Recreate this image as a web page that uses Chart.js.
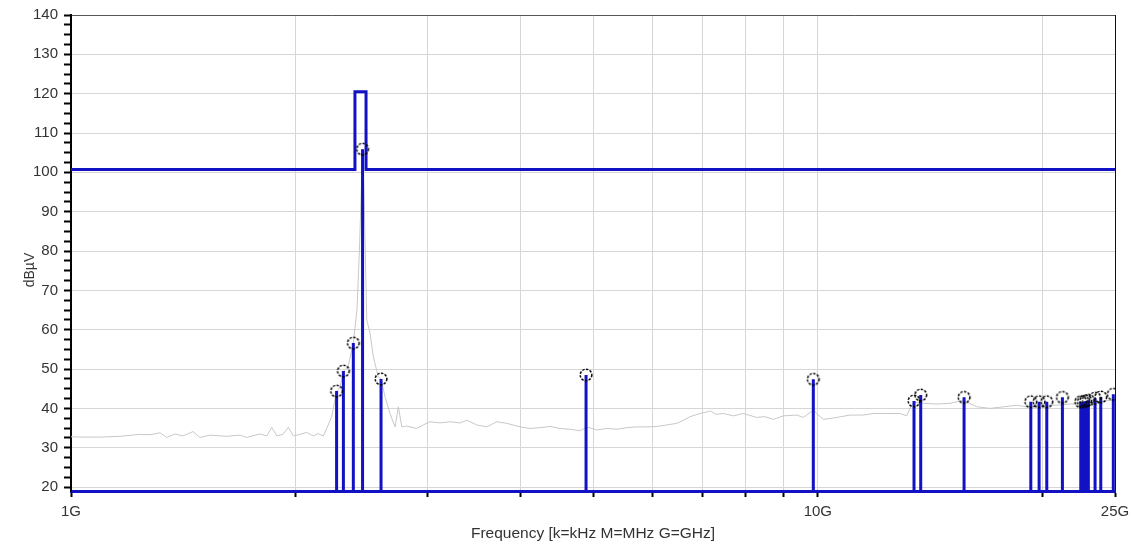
<!DOCTYPE html>
<html>
<head>
<meta charset="utf-8">
<script src="https://cdn.jsdelivr.net/npm/chart.js@4.4.1/dist/chart.umd.min.js"></script>
<style>
  html, body { margin: 0; padding: 0; background: #ffffff; }
  canvas { display: block; }
</style>
</head>
<body>
<canvas id="spectrum" width="1133" height="548"></canvas>
<script>
// Measured trace (frequency in GHz, level in dBµV)
const traceFreq = [
  1.000, 1.028, 1.094, 1.163, 1.237, 1.276, 1.316, 1.343, 1.378, 1.412,
  1.457, 1.488, 1.535, 1.616, 1.684, 1.719, 1.764, 1.791, 1.829, 1.857,
  1.886, 1.922, 1.954, 1.985, 2.026, 2.068, 2.111, 2.142, 2.177, 2.200,
  2.234, 2.268, 2.293, 2.316, 2.349, 2.388, 2.415, 2.433, 2.457, 2.468,
  2.489, 2.514, 2.540, 2.579, 2.601, 2.633, 2.674, 2.716, 2.744, 2.773,
  2.815, 2.903, 2.963, 3.025, 3.120, 3.218, 3.319, 3.388, 3.493, 3.603,
  3.716, 3.833, 3.993, 4.118, 4.247, 4.380, 4.517, 4.659, 4.805, 4.905,
  5.059, 5.218, 5.381, 5.550, 5.724, 5.903, 6.088, 6.279, 6.476, 6.609,
  6.745, 6.956, 7.137, 7.174, 7.308, 7.474, 7.708, 7.947, 8.283, 8.497,
  8.718, 8.993, 9.371, 9.564, 9.862, 10.171, 10.600, 11.045, 11.505, 11.866,
  12.367, 12.885, 13.154, 13.288, 13.453, 13.845, 14.429, 15.033, 15.664, 16.324,
  17.009, 17.721, 18.469, 19.048, 20.046, 20.891, 21.766, 22.677, 23.634, 24.619,
  25.000
];
const traceLevel = [
  32.8, 32.7, 32.7, 32.9, 33.4, 33.3, 33.8, 32.6, 33.5, 33.0,
  34.1, 32.6, 33.2, 32.9, 33.2, 32.6, 33.2, 33.5, 33.0, 35.2,
  33.0, 33.4, 35.2, 33.0, 33.4, 33.9, 33.0, 33.6, 33.0, 34.9,
  37.9, 44.3, 45.5, 49.5, 50.5, 56.6, 65.0, 80.0, 105.9, 95.0,
  62.5, 59.2, 53.1, 48.0, 47.5, 43.0, 38.7, 35.3, 40.4, 35.3,
  35.5, 34.9, 35.8, 36.6, 36.3, 36.6, 36.3, 37.0, 35.8, 35.3,
  36.6, 36.2, 35.3, 34.9, 35.1, 35.4, 34.9, 34.7, 34.3, 35.3,
  34.5, 34.9, 34.7, 35.1, 35.3, 35.3, 35.4, 35.8, 36.2, 37.0,
  37.9, 38.7, 39.2, 39.4, 38.5, 38.7, 38.1, 38.7, 37.7, 37.9,
  37.2, 38.1, 38.3, 37.7, 39.5, 37.2, 37.7, 38.3, 38.3, 38.7,
  38.7, 38.7, 38.1, 40.0, 41.5, 41.3, 41.1, 41.3, 42.0, 40.4,
  40.0, 40.4, 40.8, 40.4, 40.8, 40.8, 41.1, 41.3, 41.7, 42.0,
  42.2
];

// Detected peaks
const peakFreq = [
  2.268, 2.316, 2.388, 2.457, 2.601, 4.894, 9.862, 13.453, 13.734, 15.698,
  19.284, 19.785, 20.258, 21.258, 22.496, 22.677, 22.845, 23.029, 23.510, 23.927,
  24.870
];
const peakLevel = [
  44.4, 49.5, 56.6, 105.9, 47.5, 48.5, 47.4, 41.9, 43.4, 42.8,
  41.7, 41.7, 41.7, 42.8, 41.7, 41.7, 41.9, 42.1, 42.6, 42.9,
  43.6
];

// Limit line with the raised 2.4 GHz band
const limitFreq  = [1, 2.4, 2.4, 2.4835, 2.4835, 25];
const limitLevel = [100.7, 100.7, 120.5, 120.5, 100.7, 100.7];

// Axis ticks
const xTickValues = [1, 2, 3, 4, 5, 6, 7, 8, 9, 10, 20, 25];
const xTickLabels = ['1G', '', '', '', '', '', '', '', '', '10G', '', '25G'];
const yTickLabels = [20, 30, 40, 50, 60, 70, 80, 90, 100, 110, 120, 130, 140];
const yMinorStep = 2.5;
const levelFloor = 19;
const levelTop = 140;
const yTitle = 'dBµV';
const xTitle = 'Frequency [k=kHz M=MHz G=GHz]';

const BLUE = '#1212c4';
const GRID = '#d6d6d6';
const FONT = '"Liberation Sans", Arial, sans-serif';

// Stems: floor -> peak, separated by gaps
const stemPoints = [];
peakFreq.forEach((f, i) => {
  stemPoints.push({ x: f, y: levelFloor });
  stemPoints.push({ x: f, y: peakLevel[i] });
  stemPoints.push({ x: f, y: null });
});

// Dashed ring marker
function makeRing() {
  const c = document.createElement('canvas');
  c.width = 16; c.height = 16;
  const g = c.getContext('2d');
  g.strokeStyle = '#000';
  g.lineWidth = 1.5;
  g.setLineDash([2.4, 1.4]);
  g.beginPath();
  g.arc(8, 8, 5.8, 0, Math.PI * 2);
  g.stroke();
  return c;
}
const ring = makeRing();

const yTicks = [];
for (let v = yTickLabels[0]; v <= yTickLabels[yTickLabels.length - 1] + 1e-9; v += yMinorStep) {
  yTicks.push(v);
}

// Vertical axis caption, placed a little below the plot's middle
const yCaption = {
  id: 'yCaption',
  afterDraw(chart) {
    const g = chart.ctx;
    g.save();
    g.translate(30, 270);
    g.rotate(-Math.PI / 2);
    g.font = '14px ' + FONT;
    g.fillStyle = '#333';
    g.textAlign = 'center';
    g.textBaseline = 'middle';
    g.fillText(yTitle, 0, 0);
    g.restore();
  }
};

new Chart(document.getElementById('spectrum'), {
  type: 'line',
  data: {
    datasets: [
      {
        label: 'Markers',
        data: peakFreq.map((f, i) => ({ x: f, y: peakLevel[i] })),
        showLine: false,
        pointStyle: ring,
        pointRadius: 7,
        order: 1
      },
      {
        label: 'Peaks',
        data: stemPoints,
        borderColor: BLUE,
        borderWidth: 3,
        pointRadius: 0,
        spanGaps: false,
        order: 2
      },
      {
        label: 'Limit',
        data: limitFreq.map((f, i) => ({ x: f, y: limitLevel[i] })),
        borderColor: BLUE,
        borderWidth: 3,
        pointRadius: 0,
        order: 3
      },
      {
        label: 'Trace',
        data: traceFreq.map((f, i) => ({ x: f, y: traceLevel[i] })),
        borderColor: '#c8c8c8',
        borderWidth: 1,
        pointRadius: 0,
        order: 4
      }
    ]
  },
  plugins: [yCaption],
  options: {
    responsive: false,
    animation: false,
    layout: { padding: { top: 15, right: 18, left: 0, bottom: 0 } },
    plugins: { legend: { display: false }, tooltip: { enabled: false } },
    scales: {
      x: {
        type: 'logarithmic',
        min: 1,
        max: 25,
        afterBuildTicks: (s) => { s.ticks = xTickValues.map(v => ({ value: v })); },
        afterFit: (s) => { s.height = 57; s.paddingLeft = 0; s.paddingRight = 0; },
        grid: {
          color: (ctx) => {
            const v = ctx.tick && ctx.tick.value;
            if (v === 25) return '#111';
            if (v === 1) return 'rgba(0,0,0,0)';
            return GRID;
          },
          lineWidth: 1,
          tickColor: '#000',
          tickWidth: 2,
          tickLength: 6
        },
        border: { display: true, color: BLUE, width: 3 },
        ticks: {
          autoSkip: false,
          maxRotation: 0,
          padding: 6,
          color: '#333',
          font: { family: FONT, size: 15 },
          callback: (v) => {
            const i = xTickValues.indexOf(v);
            return i >= 0 ? xTickLabels[i] : '';
          }
        },
        title: {
          display: true,
          text: xTitle,
          color: '#333',
          font: { family: FONT, size: 15.5 },
          padding: { top: 0, bottom: 5 }
        }
      },
      y: {
        type: 'linear',
        min: levelFloor,
        max: levelTop,
        afterBuildTicks: (s) => { s.ticks = yTicks.map(v => ({ value: v })); },
        afterFit: (s) => { s.width = 71; },
        grid: {
          color: (ctx) => {
            const v = ctx.tick && ctx.tick.value;
            if (v === undefined) return GRID;
            if (v === levelTop) return '#555';
            return (v % 10 === 0) ? GRID : 'rgba(0,0,0,0)';
          },
          lineWidth: 1,
          tickColor: '#000',
          tickWidth: 2,
          tickLength: 7
        },
        border: { display: true, color: '#000', width: 2 },
        ticks: {
          autoSkip: false,
          padding: 6,
          color: '#333',
          font: { family: FONT, size: 15 },
          callback: (v) => (v % 10 === 0 && yTickLabels.includes(v)) ? String(v) : ''
        },
        title: { display: false }
      }
    }
  }
});
</script>
</body>
</html>
